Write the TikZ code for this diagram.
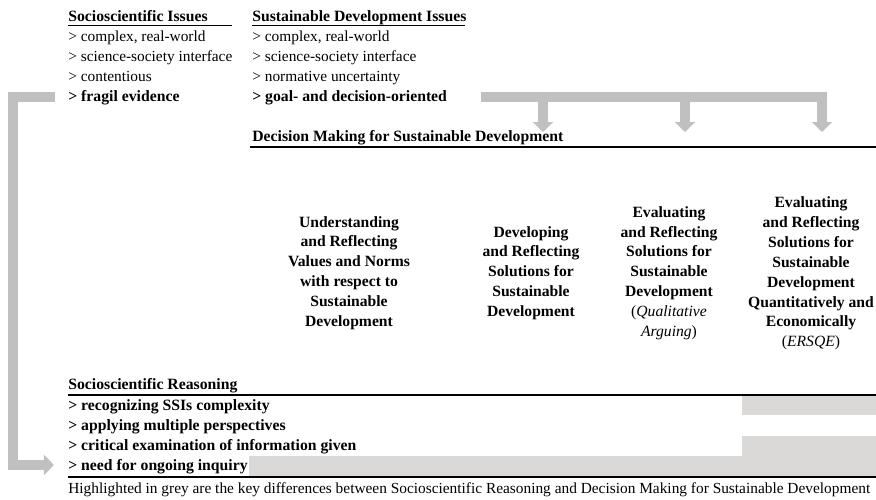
\documentclass[tikz,border=0pt]{standalone}
\usepackage{fontspec}
\setmainfont{Liberation Serif}
\usetikzlibrary{arrows.meta}
\definecolor{arrowgrey}{RGB}{192,192,192}
\definecolor{markgrey}{RGB}{218,217,215}
\tikzset{
  txt/.style={anchor=base west,inner sep=0pt,font=\fontsize{8.75}{11.3}\selectfont},
  btxt/.style={txt,font=\fontsize{8.95}{11.3}\selectfont\bfseries},
  column/.style={align=center,inner sep=0pt,font=\fontsize{8.9}{11.3}\selectfont\bfseries},
  flow/.style={draw=arrowgrey,line width=0.2cm},
  flowtip/.style={flow,-{Triangle[length=0.2cm,width=0.4cm]}},
  rule/.style={line width=1.2pt}
}
\begin{document}
\begin{tikzpicture}[x=0.02cm,y=-0.02cm]
\useasboundingbox (0,0) rectangle (876,500);

% grey highlights
\fill[markgrey] (742,396) rectangle (876,415);
\fill[markgrey] (742,436) rectangle (876,457);
\fill[markgrey] (249,456) rectangle (876,476);

% issue lists
\node[btxt] (ssi) at (68,22) {Socioscientific Issues};
\draw[line width=0.6pt] (68,25.5) -- (232,25.5);
\node[txt] (ssi1) at (68,42) {> complex, real-world};
\node[txt] (ssi2) at (68,62) {> science-society interface};
\node[txt] (ssi3) at (68,82) {> contentious};
\node[btxt] (ssi4) at (68,102) {> fragil evidence};

\node[btxt] (sdi) at (252,22) {Sustainable Development Issues};
\draw[line width=0.6pt] (sdi.base west) ++(0,3.5) -- (465,25.5);
\node[txt] (sdi1) at (252,42) {> complex, real-world};
\node[txt] (sdi2) at (252,62) {> science-society interface};
\node[txt] (sdi3) at (252,82) {> normative uncertainty};
\node[btxt] (sdi4) at (252,102) {> goal- and decision-oriented};

% decision making
\node[btxt] (dmsd) at (252,141.5) {Decision Making for Sustainable Development};
\draw[rule] (250,147) -- (876,147);

\node[column] (c1) at (349,273) {Understanding\\and Reflecting\\Values and Norms\\with respect to\\Sustainable\\Development};
\node[column] (c2) at (531,273) {Developing\\and Reflecting\\Solutions for\\Sustainable\\Development};
\node[column] (c3) at (669,273) {Evaluating\\and Reflecting\\Solutions for\\Sustainable\\Development\\\mdseries(\textit{Qualitative}\\\mdseries\textit{Arguing})};
\node[column] (c4) at (811,273.5) {Evaluating\\and Reflecting\\Solutions for\\Sustainable\\Development\\Quantitatively and\\Economically\\\mdseries(\textit{ERSQE})};

% socioscientific reasoning
\node[btxt] (ssr) at (68,389.5) {Socioscientific Reasoning};
\draw[rule] (68,395) -- (876,395);
\node[btxt] (ssr1) at (68,410.5) {> recognizing SSIs complexity};
\node[btxt] (ssr2) at (68,430.5) {> applying multiple perspectives};
\node[btxt] (ssr3) at (68,450.5) {> critical examination of information given};
\node[btxt] (ssr4) at (68,470.5) {> need for ongoing inquiry};
\draw[rule] (68,477) -- (876,477);
\node[txt] (note) at (68,493.5) {Highlighted in grey are the key differences between Socioscientific Reasoning and Decision Making for Sustainable Development};

% grey arrows
\coordinate (split) at (481,97);
\coordinate (splitend) at (827,97);
\draw[flow] (split) -- (splitend);
\draw[flowtip] (543,92) -- (543,132);
\draw[flowtip] (685,92) -- (685,132);
\draw[flowtip] (822,92) -- (822,132);
\coordinate (back) at (55,97);
\draw[flowtip] (back) -| (13,465) -- ([xshift=-8]ssr4.west |- 0,465);
\end{tikzpicture}
\end{document}
